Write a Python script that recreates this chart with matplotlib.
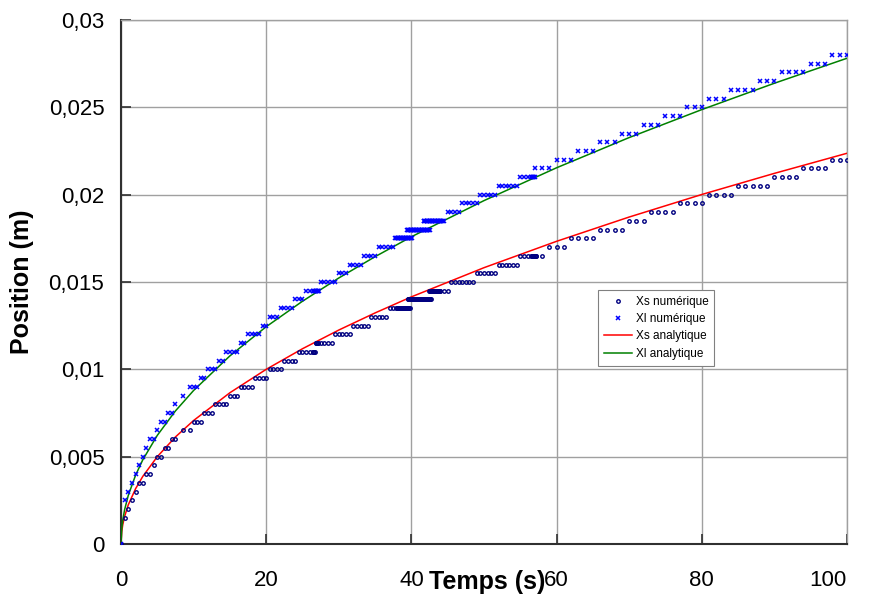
import numpy as np
import matplotlib
matplotlib.use("Agg")
import matplotlib.pyplot as plt
from matplotlib.lines import Line2D

plt.rcParams['font.family'] = ['Liberation Sans', 'DejaVu Sans']

# numerical results, read off the chart as runs:
# position level (m), first time (s), number of samples, time step (s)
xs_level = [0, 0.0015, 0.002, 0.0025, 0.003, 0.0035, 0.004, 0.0045, 0.005, 0.0055,
            0.006, 0.0065, 0.0065, 0.007, 0.0075, 0.008, 0.0085, 0.009, 0.0095, 0.01,
            0.0105, 0.011, 0.011, 0.0115, 0.0115, 0.012, 0.0125, 0.013, 0.0135, 0.0135,
            0.014, 0.0145, 0.0145, 0.015, 0.0155, 0.016, 0.0165, 0.0165, 0.0165, 0.017,
            0.0175, 0.018, 0.0185, 0.019, 0.0195, 0.02, 0.0205, 0.021, 0.0215, 0.022]
xs_start = [0, 0.5, 1.0, 1.5, 2.0, 2.5, 3.5, 4.5, 5.0, 6.0,
            7.0, 8.5, 9.5, 10.0, 11.5, 13.0, 15.0, 16.5, 18.5, 20.5,
            22.5, 24.5, 26.5, 26.8, 27.5, 29.5, 32.0, 34.5, 37.0, 37.9,
            39.5, 42.4, 44.5, 45.5, 49.0, 52.0, 55.0, 56.5, 58, 59,
            62, 66, 70, 73, 77, 81, 85, 90, 94, 98]
xs_count = [1, 1, 1, 1, 1, 2, 2, 1, 2, 2,
            2, 1, 1, 3, 3, 4, 3, 4, 4, 4,
            4, 5, 3, 5, 4, 5, 5, 5, 2, 20,
            33, 17, 2, 7, 6, 6, 3, 8, 1, 3,
            4, 4, 3, 4, 4, 4, 5, 4, 4, 3]
xs_step = [0.5, 0.5, 0.5, 0.5, 0.5, 0.5, 0.5, 0.5, 0.5, 0.5,
           0.5, 0.5, 0.5, 0.5, 0.5, 0.5, 0.5, 0.5, 0.5, 0.5,
           0.5, 0.5, 0.1, 0.1, 0.5, 0.5, 0.5, 0.5, 0.5, 0.1,
           0.1, 0.1, 0.5, 0.5, 0.5, 0.5, 0.5, 0.1, 1, 1,
           1, 1, 1, 1, 1, 1, 1, 1, 1, 1]

xl_level = [0, 0.0025, 0.003, 0.0035, 0.004, 0.0045, 0.005, 0.0055, 0.006, 0.0065,
            0.007, 0.0075, 0.008, 0.0085, 0.009, 0.0095, 0.01, 0.0105, 0.011, 0.0115,
            0.012, 0.0125, 0.013, 0.0135, 0.014, 0.0145, 0.0145, 0.015, 0.0155, 0.016,
            0.0165, 0.017, 0.0175, 0.018, 0.0185, 0.0185, 0.019, 0.0195, 0.02, 0.0205,
            0.021, 0.021, 0.0215, 0.022, 0.0225, 0.023, 0.0235, 0.024, 0.0245, 0.025,
            0.0255, 0.026, 0.0265, 0.027, 0.0275, 0.028]
xl_start = [0, 0.5, 1.0, 1.5, 2.0, 2.5, 3.0, 3.5, 4.0, 5.0,
            5.5, 6.5, 7.5, 8.5, 9.5, 11.0, 12.0, 13.5, 14.5, 16.5,
            17.5, 19.5, 20.5, 22.0, 24.0, 25.5, 26.5, 27.5, 30.0, 31.5,
            33.5, 35.5, 37.8, 39.4, 41.7, 44.5, 45.0, 47.0, 49.5, 52.0,
            55.0, 56.5, 57, 60, 63, 66, 69, 72, 75, 78,
            81, 84, 88, 91, 95, 98]
xl_count = [1, 1, 1, 1, 1, 1, 1, 1, 2, 1,
            2, 2, 1, 1, 3, 2, 3, 2, 4, 2,
            4, 2, 3, 4, 3, 2, 9, 5, 3, 4,
            4, 5, 24, 32, 27, 1, 4, 5, 5, 6,
            3, 6, 3, 3, 3, 3, 3, 3, 3, 3,
            3, 4, 3, 4, 3, 3]
xl_step = [0.5, 0.5, 0.5, 0.5, 0.5, 0.5, 0.5, 0.5, 0.5, 0.5,
           0.5, 0.5, 0.5, 0.5, 0.5, 0.5, 0.5, 0.5, 0.5, 0.5,
           0.5, 0.5, 0.5, 0.5, 0.5, 0.5, 0.1, 0.5, 0.5, 0.5,
           0.5, 0.5, 0.1, 0.1, 0.1, 0.5, 0.5, 0.5, 0.5, 0.5,
           0.5, 0.1, 1, 1, 1, 1, 1, 1, 1, 1,
           1, 1, 1, 1, 1, 1]

# analytical curves, values read at these times
t_ana = [0, 0.1, 0.25, 0.5, 1, 2, 3, 5, 7.5, 10, 15, 20, 25, 30, 35, 40,
         50, 60, 70, 80, 90, 100]
xs_ana = [0, 0.00071, 0.00112, 0.00158, 0.00224, 0.00316, 0.00387, 0.0050, 0.00613,
          0.00707, 0.00866, 0.0100, 0.01118, 0.01225, 0.01323, 0.01415, 0.01582,
          0.01733, 0.01872, 0.02001, 0.02122, 0.02237]
xl_ana = [0, 0.00088, 0.00139, 0.00197, 0.00278, 0.00393, 0.00482, 0.00622, 0.00762,
          0.00879, 0.01077, 0.01244, 0.0139, 0.01523, 0.01645, 0.01759, 0.01966,
          0.02154, 0.02327, 0.02487, 0.02638, 0.02781]

yticks = [0, 0.005, 0.01, 0.015, 0.02, 0.025, 0.03]
ytick_labels = ['0', '0,005', '0,01', '0,015', '0,02', '0,025', '0,03']
xticks = [0, 20, 40, 60, 80, 100]


def runs_to_points(level, start, count, step):
    t, x = [], []
    for lv, t0, n, dt in zip(level, start, count, step):
        for i in range(n):
            t.append(t0 + i * dt)
            x.append(lv)
    return np.array(t), np.array(x)


t_xs, v_xs = runs_to_points(xs_level, xs_start, xs_count, xs_step)
t_xl, v_xl = runs_to_points(xl_level, xl_start, xl_count, xl_step)

fig = plt.figure(figsize=(8.7, 5.96), dpi=100)
ax = fig.add_axes([121 / 870, 52 / 596, 726 / 870, 524 / 596])

ax.plot(t_ana, xs_ana, color='#ff0000', lw=1.1, zorder=3)
ax.plot(t_ana, xl_ana, color='#008000', lw=1.1, zorder=3)
ax.plot(t_xs, v_xs, ls='none', marker='o', ms=2.5, mew=1.0, mfc='none',
        mec='#000080', zorder=4)
ax.plot(t_xl, v_xl, ls='none', marker='x', ms=3.4, mew=1.1, color='#0000ff', zorder=4)

ax.set_xlim(0, 100)
ax.set_ylim(0, 0.03)
ax.set_xticks(xticks)
ax.set_xticklabels([str(v) for v in xticks])
ax.set_yticks(yticks)
ax.set_yticklabels(ytick_labels)
ax.grid(True, color='#a0a0a0', lw=1)
ax.set_axisbelow(True)

for s in ['top', 'right']:
    ax.spines[s].set_color('#a0a0a0')
    ax.spines[s].set_linewidth(1)
for s in ['left', 'bottom']:
    ax.spines[s].set_color('#303030')
    ax.spines[s].set_linewidth(1.5)

ax.tick_params(axis='both', direction='in', length=7, width=1.2, color='#303030',
               labelsize=16)
ax.tick_params(axis='x', pad=19)
ax.tick_params(axis='y', pad=12)
ax.get_xticklabels()[-1].set_ha('right')

ax.text(0.504, -0.049, 'Temps (s)', transform=ax.transAxes, ha='center', va='top',
        fontsize=18, fontweight='bold')
ax.text(-0.136, 0.5, 'Position (m)', transform=ax.transAxes, ha='center', va='center',
        rotation=90, fontsize=18, fontweight='bold')

handles = [
    Line2D([], [], ls='none', marker='o', ms=2.5, mew=1.0, mfc='none', mec='#000080'),
    Line2D([], [], ls='none', marker='x', ms=3.4, mew=1.1, color='#0000ff'),
    Line2D([], [], color='#ff0000', lw=1.1),
    Line2D([], [], color='#008000', lw=1.1),
]
labels = ['Xs numérique', 'Xl numérique', 'Xs analytique', 'Xl analytique']
leg = ax.legend(handles, labels, loc='upper left', bbox_to_anchor=(0.657, 0.485),
                fontsize=8.5, fancybox=False, framealpha=1, edgecolor='#808080',
                handlelength=2.4, handletextpad=0.3, labelspacing=0.45,
                borderpad=0.5, borderaxespad=0)
leg.get_frame().set_linewidth(0.8)

fig.savefig('out.png', dpi=100)
